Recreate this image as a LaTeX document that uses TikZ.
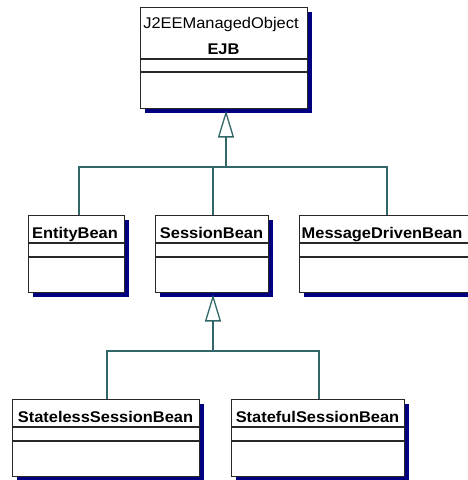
\documentclass[tikz,border=0pt]{standalone}
\usepackage{fontspec}
\setmainfont{Liberation Sans}[FakeStretch=1.06]
\usetikzlibrary{arrows.meta,shadows}
\definecolor{navy}{RGB}{0,0,128}
\definecolor{teal}{RGB}{51,102,102}
\definecolor{edge}{RGB}{40,40,40}
\tikzset{
  cls/.style={draw=edge, line width=1.3pt, fill=white, rectangle, anchor=north west, inner sep=0pt,
    drop shadow={shadow xshift=4pt, shadow yshift=-4pt, fill=navy, opacity=1}},
  sep/.style={draw=edge, line width=1.3pt},
  lbl/.style={font=\fontsize{15.5pt}{17pt}\selectfont\bfseries, inner sep=0pt, anchor=base},
  stereo/.style={font=\fontsize{15.5pt}{17pt}\selectfont, inner sep=0pt, anchor=base},
  conn/.style={draw=teal, line width=1.3pt},
  gen/.style={conn, -{Triangle[open, width=16pt, length=27pt, line width=1.3pt]}}
}
\begin{document}
\begin{tikzpicture}[x=1pt, y=-1pt]
\useasboundingbox (0,0) rectangle (467,480);
% EJB
\node[cls, minimum width=167pt, minimum height=101pt] (ejb) at (140,7) {};
\draw[sep] (140,59) -- (307,59) (140,72) -- (307,72);
\node[stereo] (ejbst) at (221,28) {J2EEManagedObject};
\node[lbl] (ejbn) at (223.5,54) {EJB};
% row 2
\node[cls, minimum width=96pt, minimum height=77pt] (ent) at (28,215) {};
\draw[sep] (28,243) -- (124,243) (28,257) -- (124,257);
\node[lbl] (entn) at (75,238.5) {EntityBean};
\node[cls, minimum width=113pt, minimum height=77pt] (ses) at (155,215) {};
\draw[sep] (155,243) -- (268,243) (155,257) -- (268,257);
\node[lbl] (sesn) at (211.5,238.5) {SessionBean};
\node[cls, minimum width=170pt, minimum height=77pt] (mdb) at (299,215) {};
\draw[sep] (299,243) -- (469,243) (299,257) -- (469,257);
\node[lbl, anchor=base west] (mdbn) at (301.5,238.5) {MessageDrivenBean};
% row 3
\node[cls, minimum width=187pt, minimum height=77pt] (sl) at (12,399) {};
\draw[sep] (12,427) -- (199,427) (12,441) -- (199,441);
\node[lbl] (sln) at (105.5,422.5) {StatelessSessionBean};
\node[cls, minimum width=173pt, minimum height=77pt] (sf) at (231,399) {};
\draw[sep] (231,427) -- (404,427) (231,441) -- (404,441);
\node[lbl] (sfn) at (317.5,422.5) {StatefulSessionBean};
% connectors level 1
\coordinate (t1) at (226,110.5);
\coordinate (j1) at (226,167);
\coordinate (e1) at (79,215);
\coordinate (s1) at (213,215);
\coordinate (m1) at (387,215);
\draw[gen] (j1) -- (t1);
\draw[conn] (e1) -- (79,167) -- (387,167) -- (m1);
\draw[conn] (s1) -- (213,167);
% connectors level 2
\coordinate (t2) at (213,294.5);
\coordinate (j2) at (213,351);
\coordinate (a2) at (107,399);
\coordinate (b2) at (319,399);
\draw[gen] (j2) -- (t2);
\draw[conn] (a2) -- (107,351) -- (319,351) -- (b2);
\end{tikzpicture}
\end{document}
